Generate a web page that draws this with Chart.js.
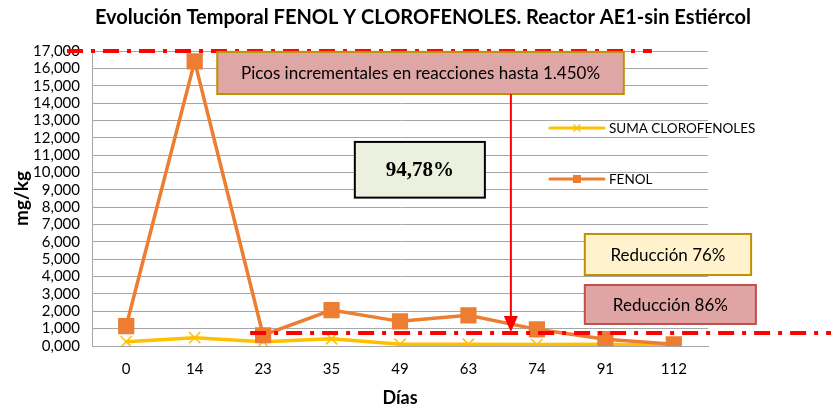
<!DOCTYPE html>
<html>
<head>
<meta charset="utf-8">
<script src="https://cdn.jsdelivr.net/npm/chart.js@4"></script>
<style>
  html, body { margin: 0; padding: 0; background: #fff; }
  #wrap { width: 831px; height: 412px; }
</style>
</head>
<body>
<div id="wrap"><canvas id="myChart" width="831" height="412"></canvas></div>
<script>
var dias = ['0', '14', '23', '35', '49', '63', '74', '91', '112'];
var fenol = [1150, 16400, 620, 2070, 1420, 1770, 960, 390, 100];
var sumaClorofenoles = [250, 480, 250, 420, 100, 100, 80, 100, 30];
var yMax = 17000;
var yStep = 1000;

var fontSans = 'Lato';

// cajas de texto: x en indice de categoria, y en mg/kg
var cajas = [
    { text: 'Picos incrementales en reacciones hasta 1.450%', x0: 1.33, x1: 7.27, y0: 16950, y1: 14520, fill: '#dfa6a6', stroke: '#bf9000', font: '17px ' + fontSans },
    { text: '94,78%', x0: 3.34, x1: 5.24, y0: 11760, y1: 8550, fill: '#ebf1de', stroke: '#000000', font: 'bold 21px "Liberation Serif"' },
    { text: 'Reducción 76%', x0: 6.70, x1: 9.13, y0: 6455, y1: 4090, fill: '#fff2cc', stroke: '#bf9000', font: '17px ' + fontSans },
    { text: 'Reducción 86%', x0: 6.70, x1: 9.20, y0: 3515, y1: 1270, fill: '#e0a4a4', stroke: '#c0504d', font: '17px ' + fontSans }
];

function lineaRoja(ctx, xa, xb, yy) {
    ctx.save();
    ctx.strokeStyle = '#ff0000';
    ctx.lineWidth = 4;
    ctx.setLineDash([16, 8, 4, 8]);
    ctx.beginPath();
    ctx.moveTo(xa, yy);
    ctx.lineTo(xb, yy);
    ctx.stroke();
    ctx.restore();
}

const anotaciones = {
    id: 'anotaciones',
    afterDraw(chart) {
        const ctx = chart.ctx;
        const x = chart.scales.x;
        const y = chart.scales.y;

        // lineas rojas
        lineaRoja(ctx, x.getPixelForValue(-0.865), x.getPixelForValue(7.68), y.getPixelForValue(17000));
        lineaRoja(ctx, x.getPixelForValue(1.81), chart.width, y.getPixelForValue(750));

        // cajas
        cajas.forEach(c => {
            const l = x.getPixelForValue(c.x0), r = x.getPixelForValue(c.x1);
            const t = y.getPixelForValue(c.y0), b = y.getPixelForValue(c.y1);
            ctx.save();
            ctx.fillStyle = c.fill;
            ctx.fillRect(l, t, r - l, b - t);
            ctx.strokeStyle = c.stroke;
            ctx.lineWidth = 2;
            ctx.strokeRect(l, t, r - l, b - t);
            ctx.fillStyle = '#000';
            ctx.font = c.font;
            ctx.textAlign = 'center';
            ctx.textBaseline = 'middle';
            ctx.fillText(c.text, (l + r) / 2, (t + b) / 2 + 1);
            ctx.restore();
        });

        // flecha
        const ax = x.getPixelForValue(5.62);
        const aTop = y.getPixelForValue(14520);
        const aTip = y.getPixelForValue(800);
        ctx.save();
        ctx.strokeStyle = '#ff0000';
        ctx.fillStyle = '#ff0000';
        ctx.lineWidth = 2;
        ctx.beginPath();
        ctx.moveTo(ax, aTop);
        ctx.lineTo(ax, aTip - 14);
        ctx.stroke();
        ctx.beginPath();
        ctx.moveTo(ax - 7, aTip - 16);
        ctx.lineTo(ax + 7, aTip - 16);
        ctx.lineTo(ax, aTip);
        ctx.closePath();
        ctx.fill();
        ctx.restore();

        // leyenda
        const items = [
            { label: 'SUMA CLOROFENOLES', ds: chart.data.datasets[1], yv: 12560 },
            { label: 'FENOL', ds: chart.data.datasets[0], yv: 9625 }
        ];
        const lx0 = x.getPixelForValue(6.19), lx1 = x.getPixelForValue(6.98);
        items.forEach(it => {
            const ly = y.getPixelForValue(it.yv);
            ctx.save();
            ctx.strokeStyle = it.ds.borderColor;
            ctx.lineWidth = 3;
            ctx.lineCap = 'round';
            ctx.beginPath();
            ctx.moveTo(lx0, ly);
            ctx.lineTo(lx1, ly);
            ctx.stroke();
            const mx = (lx0 + lx1) / 2;
            if (it.ds.pointStyle === 'rect') {
                ctx.fillStyle = it.ds.pointBackgroundColor;
                ctx.fillRect(mx - 4, ly - 4, 8, 8);
            } else {
                ctx.lineWidth = 1.5;
                ctx.beginPath();
                ctx.moveTo(mx - 3, ly - 3); ctx.lineTo(mx + 3, ly + 3);
                ctx.moveTo(mx + 3, ly - 3); ctx.lineTo(mx - 3, ly + 3);
                ctx.stroke();
            }
            ctx.fillStyle = '#000';
            ctx.font = '13.5px ' + fontSans;
            ctx.textAlign = 'left';
            ctx.textBaseline = 'middle';
            ctx.fillText(it.label, lx1 + 5, ly + 1);
            ctx.restore();
        });

        // titulo
        ctx.save();
        ctx.fillStyle = '#000';
        ctx.font = 'bold 20px ' + fontSans;
        ctx.textAlign = 'center';
        ctx.textBaseline = 'middle';
        ctx.fillText('Evolución Temporal FENOL Y CLOROFENOLES. Reactor AE1-sin Estiércol', 423, 18);
        ctx.restore();
    }
};

const ctx1 = document.getElementById('myChart');

new Chart(ctx1, {
    type: 'line',
    data: {
        labels: dias,
        datasets: [{
            label: 'FENOL',
            data: fenol,
            borderColor: '#ed7d31',
            backgroundColor: '#ed7d31',
            pointBackgroundColor: '#ed7d31',
            pointBorderColor: '#ed7d31',
            pointStyle: 'rect',
            pointRadius: 9,
            borderWidth: 3.5,
            tension: 0
        }, {
            label: 'SUMA CLOROFENOLES',
            data: sumaClorofenoles,
            borderColor: '#ffc000',
            backgroundColor: '#ffc000',
            pointBackgroundColor: '#ffc000',
            pointBorderColor: '#ffc000',
            pointStyle: 'crossRot',
            pointRadius: 8,
            pointBorderWidth: 1.5,
            borderWidth: 3.5,
            tension: 0
        }]
    },
    options: {
        responsive: false,
        animation: false,
        layout: {
            padding: { left: 0, right: 123, top: 51, bottom: 0 }
        },
        plugins: {
            legend: { display: false },
            title: { display: false },
            tooltip: { enabled: false }
        },
        scales: {
            x: {
                offset: true,
                grid: { display: false, drawTicks: false, offset: true },
                border: { display: true, color: '#a6a6a6' },
                ticks: { color: '#000', padding: 14, font: { family: fontSans, size: 15 } },
                title: { display: true, text: 'Días', color: '#000', padding: { top: 0, bottom: 3 }, font: { family: fontSans, size: 18, weight: 'bold' } },
                afterFit: (scale) => { scale.height = 66; }
            },
            y: {
                min: 0,
                max: yMax,
                grid: { color: '#a6a6a6', lineWidth: 1, drawTicks: false },
                border: { display: true, color: '#a6a6a6' },
                ticks: {
                    stepSize: yStep,
                    autoSkip: false,
                    color: '#000',
                    padding: 12,
                    font: { family: fontSans, size: 15 },
                    callback: (v) => (v / 1000) + ',000'
                },
                title: { display: true, text: 'mg/kg', color: '#000', padding: { top: 10, bottom: 0 }, font: { family: fontSans, size: 19, weight: 'bold' } },
                afterFit: (scale) => { scale.width = 92; }
            }
        }
    },
    plugins: [anotaciones]
});
</script>
</body>
</html>
